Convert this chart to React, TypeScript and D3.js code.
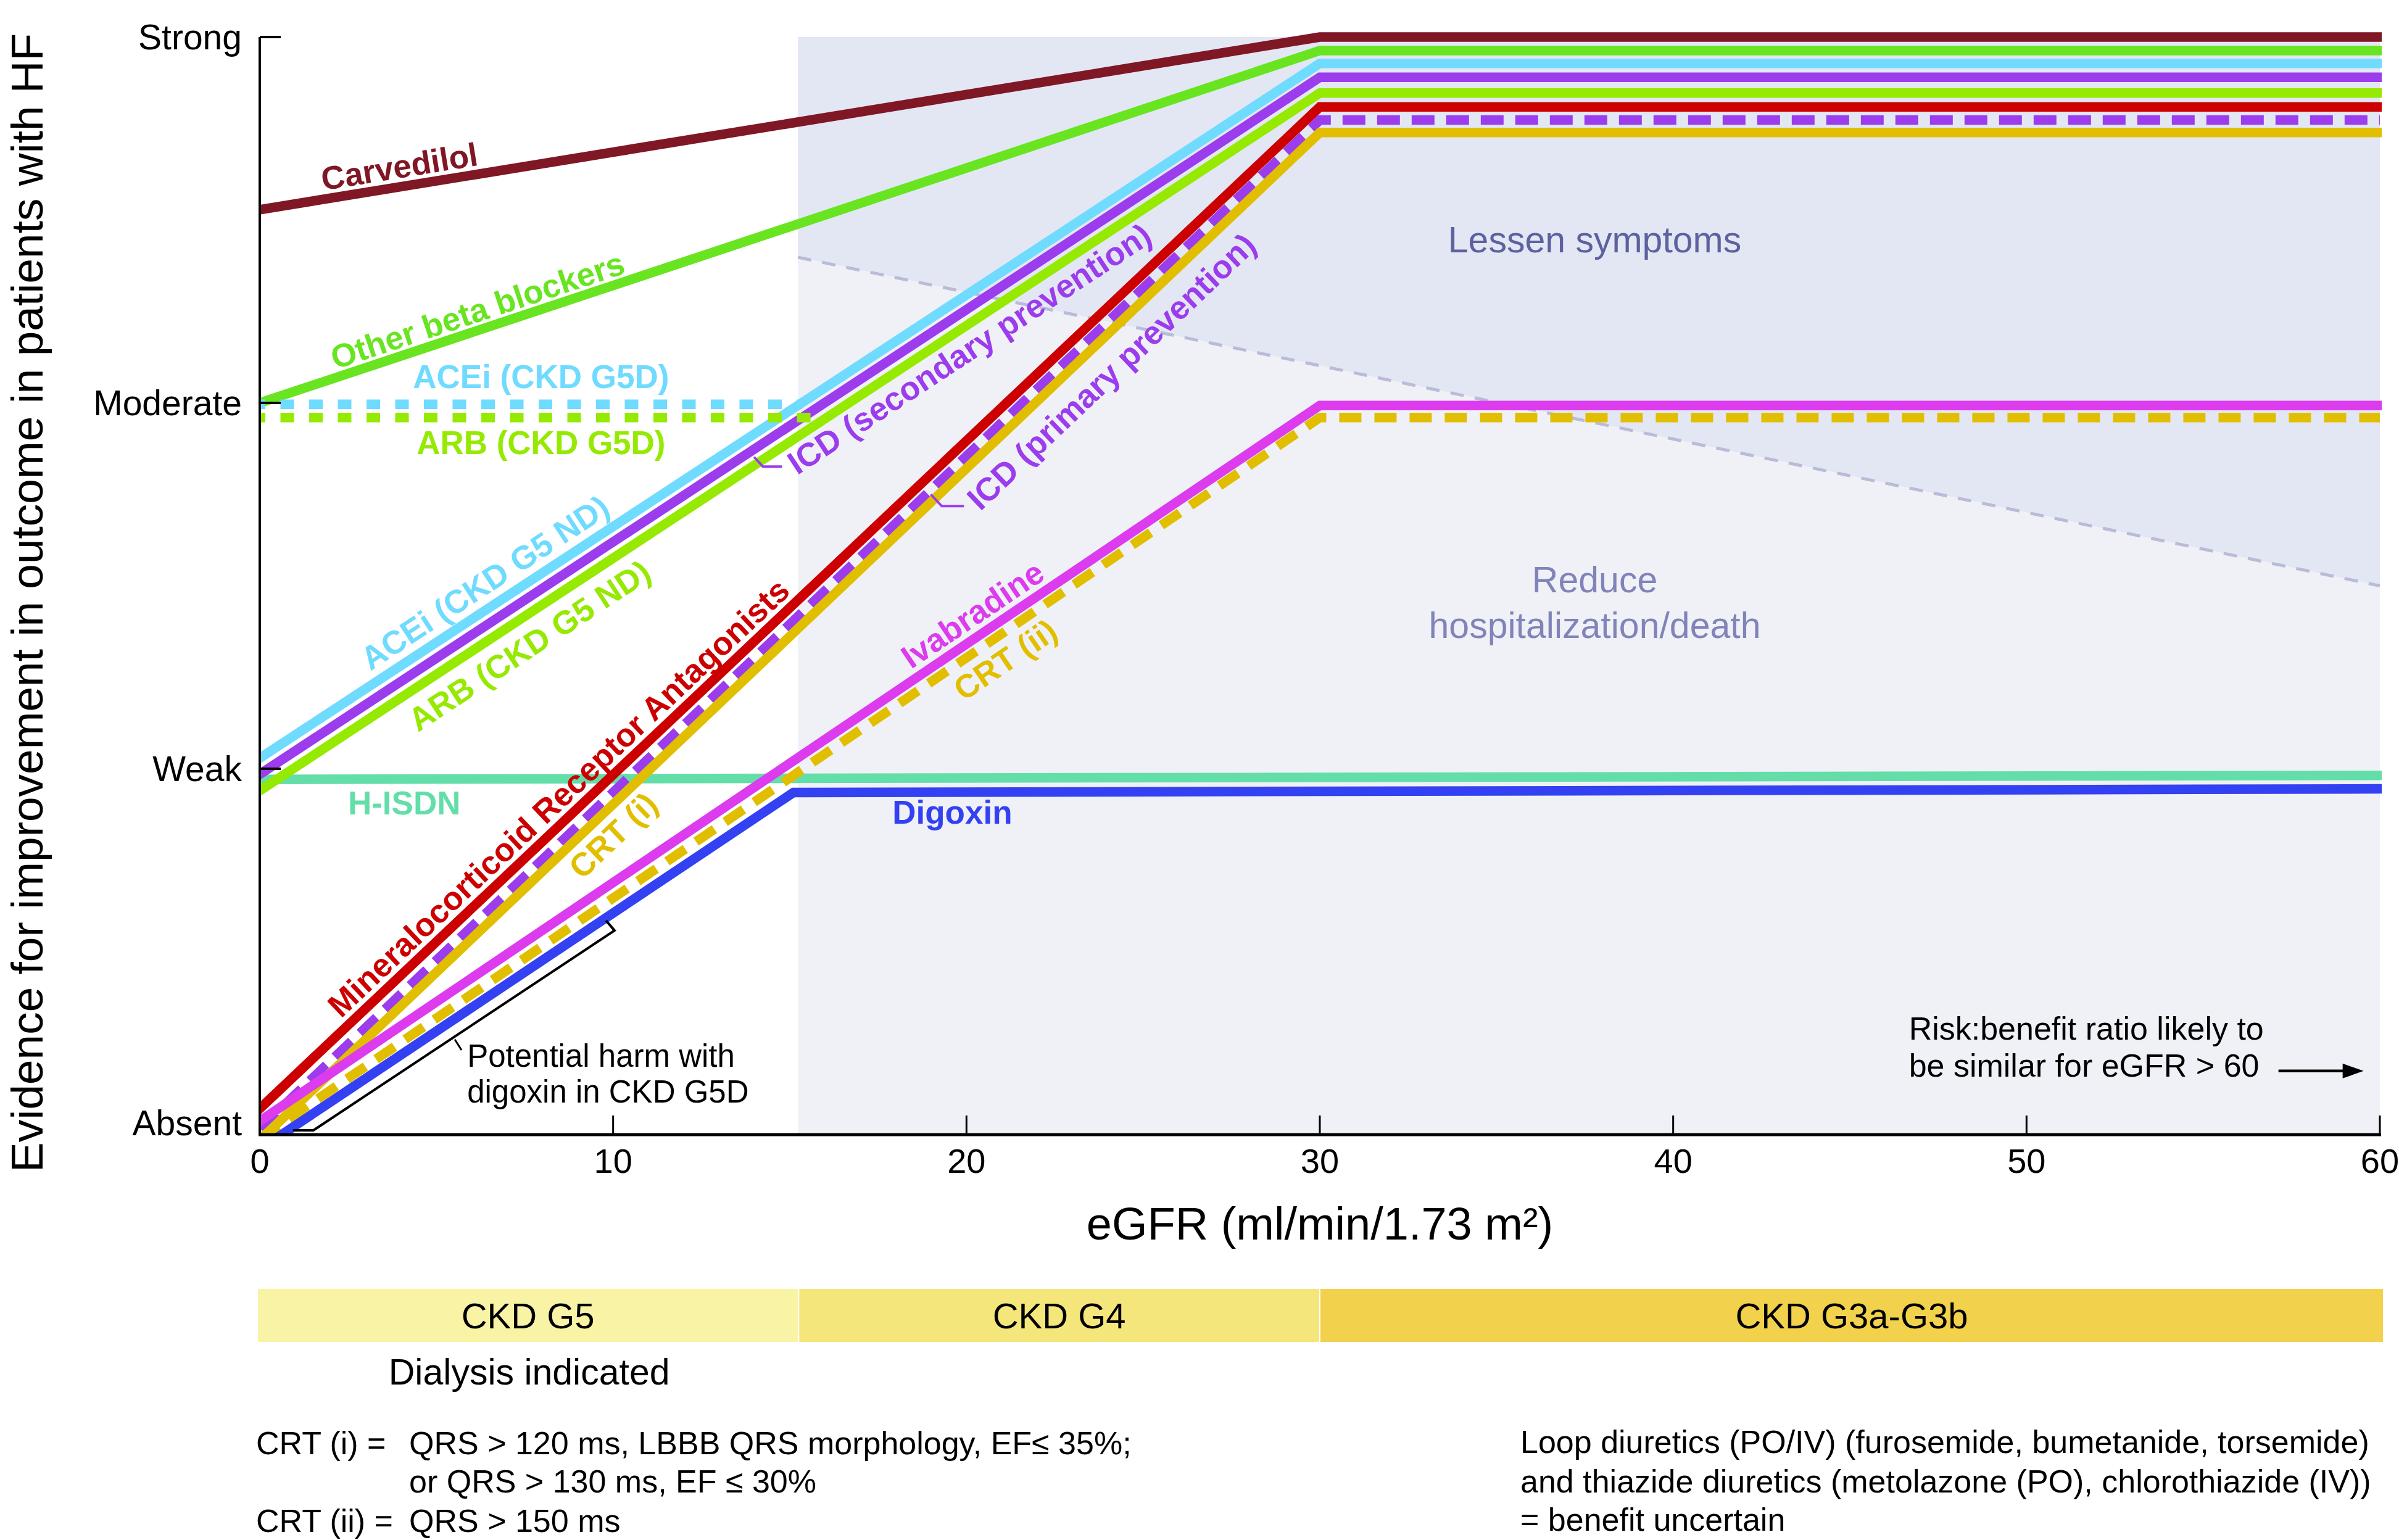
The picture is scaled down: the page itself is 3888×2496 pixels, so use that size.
import React from "react";
import * as d3 from "d3";

// ---------- data (eGFR, evidence level 0=Absent .. 3=Strong) ----------
const evidenceLevels = ["Absent", "Weak", "Moderate", "Strong"];
const egfrTicks = [0, 10, 20, 30, 40, 50, 60];

const carvedilol = [[0, 2.528], [30, 3.0], [60, 3.0]];
const otherBetaBlockers = [[0, 2.0], [30, 2.963], [60, 2.963]];
const aceiND = [[0, 1.029], [30, 2.928], [60, 2.928]];
const icdSecondary = [[0, 0.985], [30, 2.89], [60, 2.89]];
const arbND = [[0, 0.94], [30, 2.847], [60, 2.847]];
const mra = [[0, 0.071], [30, 2.809], [60, 2.809]];
const icdPrimary = [[0, 0.017], [30, 2.773], [60, 2.773]];
const crtI = [[0, -0.015], [30, 2.739], [60, 2.739]];
const ivabradine = [[0, 0.037], [30, 1.993], [60, 1.993]];
const crtII = [[0, -0.01], [30, 1.96], [60, 1.96]];
const hIsdn = [[0, 0.971], [60, 0.982]];
const digoxin = [[0, -0.04], [15.1, 0.935], [60, 0.945]];
const aceiG5D = [[0, 1.996], [15.35, 1.996]];
const arbG5D = [[0, 1.96], [15.8, 1.96]];

// benefit zones
const zoneStart = 15.23;
const symptomDivider = [[15.23, 2.398], [60, 1.5]];

// CKD stages
const ckdStageNames = ["CKD G5", "CKD G4", "CKD G3a-G3b"];
const ckdStageBounds = [0, 15.25, 30, 60];

// annotation geometry (data units)
const digoxinHarmBracket = [[0.94, 0.012], [1.52, 0.012], [10.04, 0.558], [9.8, 0.585]];
const digoxinHarmLeader = [[5.52, 0.26], [5.71, 0.231]];
const icdSecondaryBracket = [[13.99, 1.852], [14.24, 1.826], [14.78, 1.826]];
const icdPrimaryBracket = [[18.99, 1.75], [19.3, 1.718], [19.93, 1.718]];
const riskArrow = [[57.13, 0.174], [59.54, 0.174]];

const FONT = "'Liberation Sans', Arial, Helvetica, sans-serif";

export default function App() {
  const W = 3888, H = 2496;
  const x = d3.scaleLinear().domain([0, 60]).range([421, 3857]);
  const y = d3.scaleLinear().domain([0, 3]).range([1839, 60]);
  const line = d3.line<number[]>().x((d) => x(d[0])).y((d) => y(d[1]));

  const angleOf = (pts: number[][], xv: number) => {
    for (let i = 0; i < pts.length - 1; i++) {
      if (xv >= pts[i][0] && xv <= pts[i + 1][0]) {
        const dx = x(pts[i + 1][0]) - x(pts[i][0]);
        const dy = y(pts[i + 1][1]) - y(pts[i][1]);
        return (Math.atan2(dy, dx) * 180) / Math.PI;
      }
    }
    return 0;
  };

  const C = {
    carv: "#7f1725",
    beta: "#69e421",
    acei: "#6fdbff",
    icd: "#9b3ced",
    arb: "#96e900",
    mra: "#cc0000",
    crt: "#e1bf00",
    ivab: "#dc3ced",
    hisdn: "#63dea9",
    dig: "#3341f2",
  };

  const series = [
    { pts: hIsdn, color: C.hisdn },
    { pts: carvedilol, color: C.carv },
    { pts: otherBetaBlockers, color: C.beta },
    { pts: aceiND, color: C.acei },
    { pts: icdSecondary, color: C.icd },
    { pts: arbND, color: C.arb },
    { pts: mra, color: C.mra },
    { pts: icdPrimary, color: C.icd, dash: "37 19" },
    { pts: crtI, color: C.crt },
    { pts: crtII, color: C.crt, dash: "36 21" },
    { pts: digoxin, color: C.dig },
    { pts: ivabradine, color: C.ivab },
    { pts: aceiG5D, color: C.acei, dash: "22 24.5", offset: 13 },
    { pts: arbG5D, color: C.arb, dash: "22 24.5", offset: 13 },
  ];

  const rotLabels = [
    { text: "Carvedilol", pts: carvedilol, at: [3.95, 2.646], color: C.carv },
    { text: "Other beta blockers", pts: otherBetaBlockers, at: [6.16, 2.253], color: C.beta },
    { text: "ACEi (CKD G5 ND)", pts: aceiND, at: [6.37, 1.509], color: C.acei },
    { text: "ARB (CKD G5 ND)", pts: arbND, at: [7.63, 1.337], color: C.arb },
    { text: "ICD (secondary prevention)", pts: icdSecondary, at: [20.08, 2.148], color: C.icd },
    { text: "ICD (primary prevention)", pts: icdPrimary, at: [24.1, 2.086], color: C.icd },
    { text: "Mineralocorticoid Receptor Antagonists", pts: mra, at: [8.45, 0.921], color: C.mra },
    { text: "CRT (i)", pts: crtI, at: [10.0, 0.818], color: C.crt },
    { text: "Ivabradine", pts: ivabradine, at: [20.17, 1.422], color: C.ivab },
    { text: "CRT (ii)", pts: crtII, at: [21.1, 1.298], color: C.crt },
  ];

  const flatLabels = [
    { text: "ACEi (CKD G5D)", at: [7.96, 2.04], color: C.acei },
    { text: "ARB (CKD G5D)", at: [7.96, 1.86], color: C.arb },
    { text: "H-ISDN", at: [4.09, 0.875], color: C.hisdn },
    { text: "Digoxin", at: [19.6, 0.85], color: C.dig },
  ];

  const upperZone = [[zoneStart, 3], [60, 3], symptomDivider[1], symptomDivider[0]];
  const lowerZone = [symptomDivider[0], symptomDivider[1], [60, 0], [zoneStart, 0]];
  const poly = (p: number[][]) => p.map((d) => `${x(d[0])},${y(d[1])}`).join(" ");

  const bandTop = 2089, bandH = 86;
  const bandColors = ["#f9f3a6", "#f5e67c", "#f2d24c"];

  const ax0 = x(riskArrow[0][0]), ax1 = x(riskArrow[1][0]), ay = y(riskArrow[0][1]);

  return (
    <svg
      width={W}
      height={H}
      viewBox={`0 0 ${W} ${H}`}
      style={{ position: "absolute", left: 0, top: 0, background: "#fff" }}
      fontFamily={FONT}
    >
      <defs>
        <clipPath id="plotClip">
          <rect x={x(0)} y={0} width={x(60) - x(0) + 3} height={y(0)} />
        </clipPath>
      </defs>

      {/* zones */}
      <polygon points={poly(upperZone)} fill="#e3e7f3" />
      <polygon points={poly(lowerZone)} fill="#f0f1f7" />
      <path d={line(symptomDivider) || ""} stroke="#b9bbd8" strokeWidth={5} strokeDasharray="22 18" fill="none" />

      <text x={x(37.78)} y={y(2.411)} fontSize={59} fill="#5c619f" textAnchor="middle">Lessen symptoms</text>
      <text x={x(37.78)} y={y(1.482)} fontSize={59} fill="#8084b8" textAnchor="middle">Reduce</text>
      <text x={x(37.78)} y={y(1.357)} fontSize={59} fill="#8084b8" textAnchor="middle">hospitalization/death</text>

      {/* series lines */}
      <g clipPath="url(#plotClip)" fill="none">
        {series.map((s, i) => (
          <path
            key={i}
            d={line(s.pts) || ""}
            stroke={s.color}
            strokeWidth={15.5}
            strokeDasharray={s.dash}
            strokeDashoffset={s.offset || 0}
            strokeLinecap={s.dash ? "butt" : "square"}
            strokeLinejoin="miter"
            strokeMiterlimit={10}
          />
        ))}
      </g>

      {/* brackets */}
      <path d={line(digoxinHarmBracket) || ""} stroke="#000" strokeWidth={4} fill="none" />
      <path d={line(digoxinHarmLeader) || ""} stroke="#000" strokeWidth={3} fill="none" />
      <path d={line(icdSecondaryBracket) || ""} stroke={C.icd} strokeWidth={4} fill="none" />
      <path d={line(icdPrimaryBracket) || ""} stroke={C.icd} strokeWidth={4} fill="none" />

      {/* labels */}
      {rotLabels.map((l, i) => (
        <text
          key={i}
          transform={`translate(${x(l.at[0])},${y(l.at[1])}) rotate(${angleOf(l.pts, l.at[0])})`}
          textAnchor="middle"
          dy="0.35em"
          fontSize={53}
          fontWeight="bold"
          fill={l.color}
        >
          {l.text}
        </text>
      ))}
      {flatLabels.map((l, i) => (
        <text key={i} x={x(l.at[0])} y={y(l.at[1])} textAnchor="middle" fontSize={53} fontWeight="bold" fill={l.color}>
          {l.text}
        </text>
      ))}

      <text x={x(5.87)} y={y(0.1855)} fontSize={51} fill="#000">Potential harm with</text>
      <text x={x(5.87)} y={y(0.0877)} fontSize={51} fill="#000">digoxin in CKD G5D</text>

      <text x={x(46.67)} y={y(0.26)} fontSize={52} fill="#000">Risk:benefit ratio likely to</text>
      <text x={x(46.67)} y={y(0.159)} fontSize={52} fill="#000">be similar for eGFR &gt; 60</text>
      <line x1={ax0} x2={ax1 - 20} y1={ay} y2={ay} stroke="#000" strokeWidth={4.5} />
      <path d={`M${ax1 - 34},${ay - 12} L${ax1},${ay} L${ax1 - 34},${ay + 12} Z`} fill="#000" />

      {/* axes */}
      <line x1={x(0)} x2={x(0)} y1={y(3)} y2={y(0)} stroke="#000" strokeWidth={4} />
      <line x1={x(0) - 2} x2={x(60) + 2} y1={y(0)} y2={y(0)} stroke="#000" strokeWidth={5} />
      {evidenceLevels.map((lab, i) => (
        <g key={lab}>
          <line x1={x(0)} x2={x(0) + 34} y1={y(i)} y2={y(i)} stroke="#000" strokeWidth={4} />
          <text x={392} y={y(i)} dy={i === 0 ? "0.02em" : "0.35em"} textAnchor="end" fontSize={57} fill="#000">{lab}</text>
        </g>
      ))}
      {egfrTicks.map((t) => (
        <g key={t}>
          {t > 0 && <line x1={x(t)} x2={x(t)} y1={y(0)} y2={y(0) - 31} stroke="#000" strokeWidth={3} />}
          <text x={x(t)} y={1901} textAnchor="middle" fontSize={56} fill="#000">{t}</text>
        </g>
      ))}
      <text x={x(30)} y={2009} textAnchor="middle" fontSize={74} fill="#000">eGFR (ml/min/1.73 m²)</text>
      <text transform={`translate(69,1900) rotate(-90)`} fontSize={73} fill="#000">
        Evidence for improvement in outcome in patients with HF
      </text>

      {/* CKD bands */}
      {ckdStageNames.map((name, i) => {
        const x0 = x(ckdStageBounds[i]) - (i === 0 ? 3 : -1);
        const x1 = x(ckdStageBounds[i + 1]) + (i === ckdStageNames.length - 1 ? 5 : -1);
        return (
          <g key={name}>
            <rect x={x0} y={bandTop} width={x1 - x0} height={bandH} fill={bandColors[i]} />
            <text x={(x0 + x1) / 2} y={2153} textAnchor="middle" fontSize={58} fill="#000">{name}</text>
          </g>
        );
      })}
      <text x={(x(ckdStageBounds[0]) + x(ckdStageBounds[1])) / 2} y={2244} textAnchor="middle" fontSize={59} fill="#000">
        Dialysis indicated
      </text>

      {/* footnotes */}
      <g fontSize={52} fill="#000">
        <text x={415} y={2357}>CRT (i) =</text>
        <text x={663} y={2357}>QRS &gt; 120 ms, LBBB QRS morphology, EF≤ 35%;</text>
        <text x={663} y={2419}>or QRS &gt; 130 ms, EF ≤ 30%</text>
        <text x={415} y={2483}>CRT (ii) =</text>
        <text x={663} y={2483}>QRS &gt; 150 ms</text>
        <text x={2464} y={2355}>Loop diuretics (PO/IV) (furosemide, bumetanide, torsemide)</text>
        <text x={2464} y={2419}>and thiazide diuretics (metolazone (PO), chlorothiazide (IV))</text>
        <text x={2464} y={2481}>= benefit uncertain</text>
      </g>
    </svg>
  );
}
